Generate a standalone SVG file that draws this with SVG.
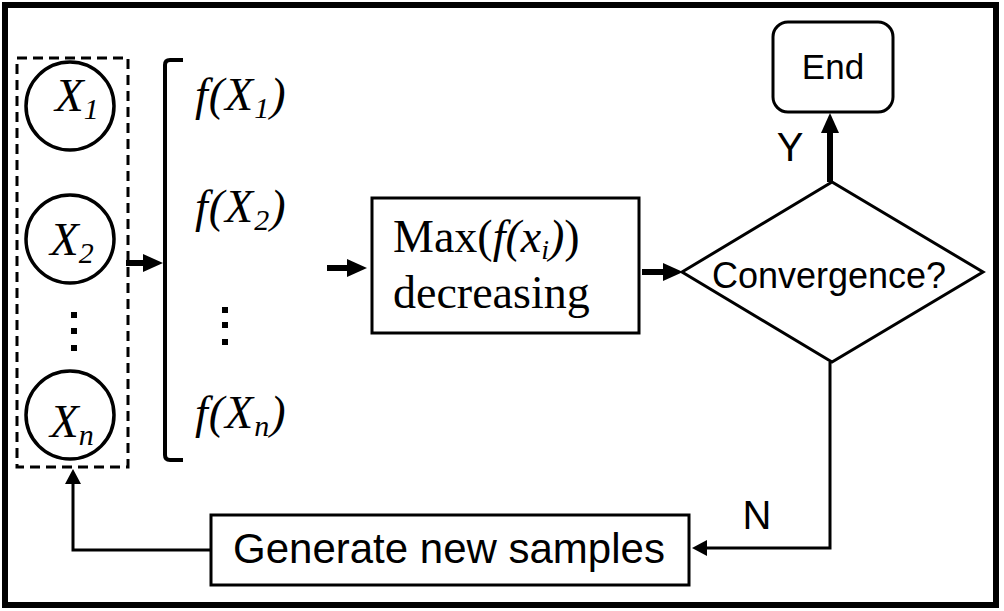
<svg xmlns="http://www.w3.org/2000/svg" width="1004" height="611" viewBox="0 0 1004 611">
<style>
.line{fill:none;stroke:#000;stroke-width:3}
.thick{fill:none;stroke:#000;stroke-width:6}
.node{fill:#fff;stroke:#000;stroke-width:3}
.circ{fill:#fff;stroke:#000;stroke-width:3.5}
.math{font-family:"Liberation Serif","Times New Roman",serif;font-style:italic;fill:#000}
.serif{font-family:"Liberation Serif","Times New Roman",serif;fill:#000}
.sans{font-family:"Liberation Sans",Arial,sans-serif;fill:#000}
</style>
<defs>
<marker id="hThick" markerUnits="userSpaceOnUse" markerWidth="20" markerHeight="18" refX="2" refY="9" orient="auto">
<path d="M0,0 L20,9 L0,18 z" fill="#000"/>
</marker>
<marker id="hThin" markerUnits="userSpaceOnUse" markerWidth="15" markerHeight="16" refX="2" refY="8" orient="auto">
<path d="M0,0 L15,8 L0,16 z" fill="#000"/>
</marker>
</defs>
<rect x="0" y="0" width="1004" height="611" fill="#fff"/>
<rect id="frame" x="5" y="5" width="991" height="600" fill="none" stroke="#000" stroke-width="6"/>

<g id="samples">
<rect x="17" y="58" width="111" height="409" fill="none" stroke="#000" stroke-width="3" stroke-dasharray="10,6"/>
<g id="x1">
<circle class="circ" cx="70" cy="106" r="44"/>
<text class="math" x="55" y="111" font-size="47">X<tspan font-size="30" dy="8">1</tspan></text>
</g>
<g id="x2">
<circle class="circ" cx="70" cy="239" r="44"/>
<text class="math" x="50" y="255" font-size="47">X<tspan font-size="30" dy="8">2</tspan></text>
</g>
<g id="dots1" fill="#000">
<rect x="71" y="312" width="6" height="6"/>
<rect x="71" y="328" width="6" height="6"/>
<rect x="71" y="345" width="6" height="6"/>
</g>
<g id="xn">
<circle class="circ" cx="70" cy="415" r="44"/>
<text class="math" x="50" y="437" font-size="47">X<tspan font-size="30" dy="8">n</tspan></text>
</g>
</g>

<g id="fvalues">
<path d="M183,60 L170,60 Q165,60 165,65 L165,455 Q165,460 170,460 L183,460" fill="none" stroke="#000" stroke-width="4"/>
<text class="math" x="195" y="110" font-size="46" letter-spacing="1">f(X<tspan font-size="30" dy="8">1</tspan><tspan dy="-8">)</tspan></text>
<text class="math" x="195" y="222" font-size="46" letter-spacing="1">f(X<tspan font-size="30" dy="8">2</tspan><tspan dy="-8">)</tspan></text>
<g fill="#000">
<rect x="222" y="307" width="6" height="6"/>
<rect x="222" y="322" width="6" height="6"/>
<rect x="222" y="339" width="6" height="6"/>
</g>
<text class="math" x="195" y="428" font-size="46" letter-spacing="1">f(X<tspan font-size="30" dy="8">n</tspan><tspan dy="-8">)</tspan></text>
</g>

<g id="max">
<rect class="node" x="372" y="198" width="267" height="135"/>
<text class="serif" x="393" y="252" font-size="46">Max(<tspan font-style="italic">f(x</tspan><tspan font-style="italic" font-size="28" dy="7">i</tspan><tspan font-style="italic" dy="-7">)</tspan>)</text>
<text class="serif" x="393" y="308" font-size="46">decreasing</text>
</g>

<g id="convergence">
<polygon class="node" points="682,272 832,182 983,272 832,362" stroke-width="2.5"/>
<text class="sans" x="829" y="288" font-size="36" text-anchor="middle">Convergence?</text>
</g>

<g id="end">
<rect class="node" x="773" y="22" width="120" height="90" rx="15" ry="15" stroke-width="2.5"/>
<text class="sans" x="833" y="79" font-size="35" text-anchor="middle">End</text>
</g>

<g id="generate">
<rect class="node" x="211" y="515" width="478" height="70"/>
<text class="sans" x="233" y="563" font-size="42">Generate new samples</text>
</g>

<g id="connectors">
<line class="thick" x1="126" y1="263" x2="145" y2="263" marker-end="url(#hThick)"/>
<line class="thick" x1="327" y1="268" x2="349" y2="268" marker-end="url(#hThick)"/>
<line class="thick" x1="642" y1="272" x2="665" y2="272" marker-end="url(#hThick)"/>
<line class="thick" x1="830" y1="182" x2="830" y2="131" marker-end="url(#hThick)"/>
<polyline class="line" points="830,362 830,548 705,548" marker-end="url(#hThin)"/>
<polyline class="line" points="211,550 73,550 73,482" marker-end="url(#hThin)"/>
<text class="sans" x="790" y="161" font-size="40" text-anchor="middle">Y</text>
<text class="sans" x="757" y="529" font-size="40" text-anchor="middle">N</text>
</g>
</svg>
